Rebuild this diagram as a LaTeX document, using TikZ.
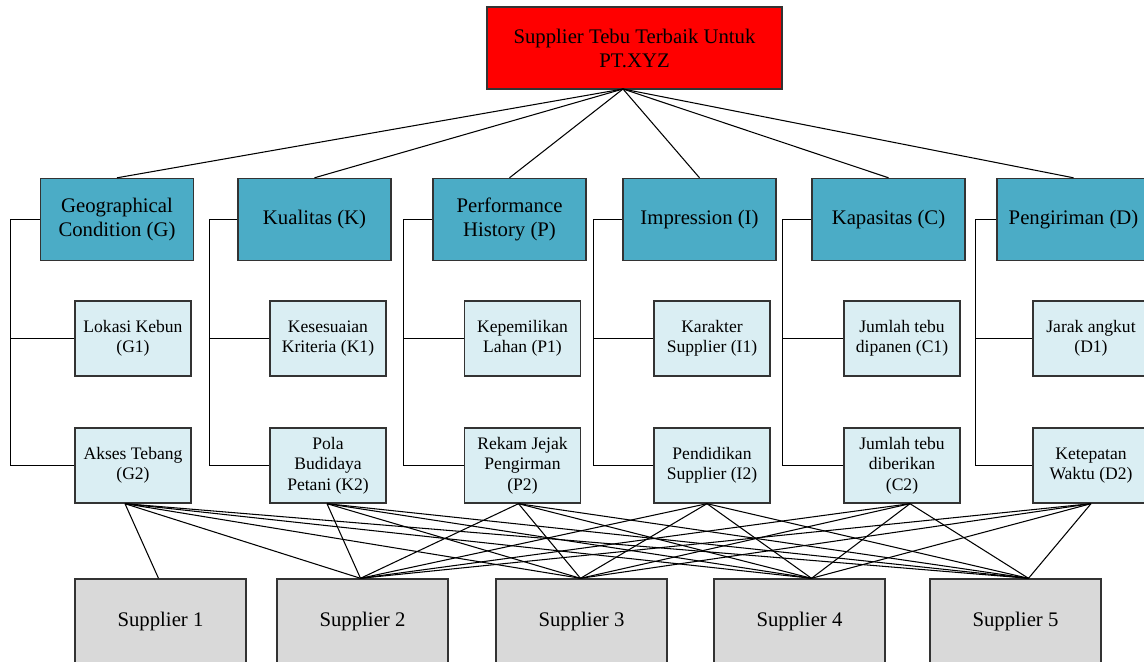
\documentclass[tikz,border=0pt]{standalone}
\usepackage{fontspec}
\setmainfont{Liberation Serif}
\usetikzlibrary{calc}
\definecolor{goalred}{HTML}{FF0000}
\definecolor{critteal}{HTML}{4BACC6}
\definecolor{subblue}{HTML}{DAEEF3}
\definecolor{altgrey}{HTML}{D9D9D9}
\tikzset{
  box/.style={draw=black!80, line width=0.8pt, align=center, inner sep=0pt},
  goal/.style={box, fill=goalred, minimum width=5.9cm, minimum height=1.64cm,
    font=\fontsize{11.8}{13.7}\selectfont},
  crit/.style={box, fill=critteal, minimum width=3.06cm, minimum height=1.64cm,
    font=\fontsize{11.8}{13.7}\selectfont},
  subbox/.style={box, fill=subblue, minimum width=2.32cm, minimum height=1.5cm,
    font=\fontsize{10}{11.6}\selectfont},
  altbox/.style={box, fill=altgrey, minimum width=3.42cm, minimum height=1.72cm,
    font=\fontsize{11.8}{13.7}\selectfont},
  link/.style={line width=0.6pt},
}
\begin{document}
\begin{tikzpicture}[x=0.02cm, y=-0.02cm]
  \useasboundingbox (0,0) rectangle (1144,662);

  % goal
  \node[goal] (goal) at (634.5,48) {Supplier Tebu Terbaik Untuk\\PT.XYZ};
  \coordinate (hub) at (623,89);

  % criteria
  \foreach \n/\x/\lab in {G/117/{Geographical\\Condition (G)}, K/314.5/{Kualitas (K)},
      P/509.5/{Performance\\History (P)}, I/699.5/{Impression (I)},
      C/888.5/{Kapasitas (C)}, D/1073.5/{Pengiriman (D)}}
    \node[crit] (\n) at (\x,219.5) {\lab};

  % sub-criteria
  \foreach \n/\x/\la/\lb in {G/133/{Lokasi Kebun\\(G1)}/{Akses Tebang\\(G2)},
      K/328/{Kesesuaian\\Kriteria (K1)}/{Pola\\Budidaya\\Petani (K2)},
      P/522.5/{Kepemilikan\\Lahan (P1)}/{Rekam Jejak\\Pengirman\\(P2)},
      I/712/{Karakter\\Supplier (I1)}/{Pendidikan\\Supplier (I2)},
      C/902/{Jumlah tebu\\dipanen (C1)}/{Jumlah tebu\\diberikan\\(C2)},
      D/1091/{Jarak angkut\\(D1)}/{Ketepatan\\Waktu (D2)}} {
    \node[subbox] (\n1) at (\x,338.5) {\la};
    \node[subbox] (\n2) at (\x,465.5) {\lb};
  }

  % alternatives
  \foreach \i/\x in {1/160.5,2/362.5,3/581.5,4/799.5,5/1015.5}
    \node[altbox] (S\i) at (\x,622) {Supplier \i};

  % goal to criteria
  \foreach \n in {G,K,P,I,C,D}
    \draw[link] (hub) -- (\n.north);

  % criteria to sub-criteria
  \foreach \n/\d in {G/29,K/28,P/29,I/29,C/29,D/21} {
    \draw[link] (\n.west) -- ++(-\d,0) coordinate (\n bar) |- (\n2.west);
    \draw[link] (\n1.west) -- (\n1.west -| \n bar);
  }

  % sub-criteria to alternatives
  \foreach \n/\dx in {G/-8,K/-1,P/-4,I/-5,C/8,D/0}
    \coordinate (\n2b) at ($(\n2.south)+(\dx,0)$);
  \foreach \i/\dx in {1/-2,2/-2,3/-1,4/12,5/13}
    \coordinate (S\i t) at ($(S\i.north)+(\dx,0)$);
  \foreach \i in {1,...,5}
    \draw[link] (G2b) -- (S\i t);
  \foreach \n in {K,P,I,C,D}
    \foreach \i in {2,...,5}
      \draw[link] (\n2b) -- (S\i t);
\end{tikzpicture}
\end{document}
